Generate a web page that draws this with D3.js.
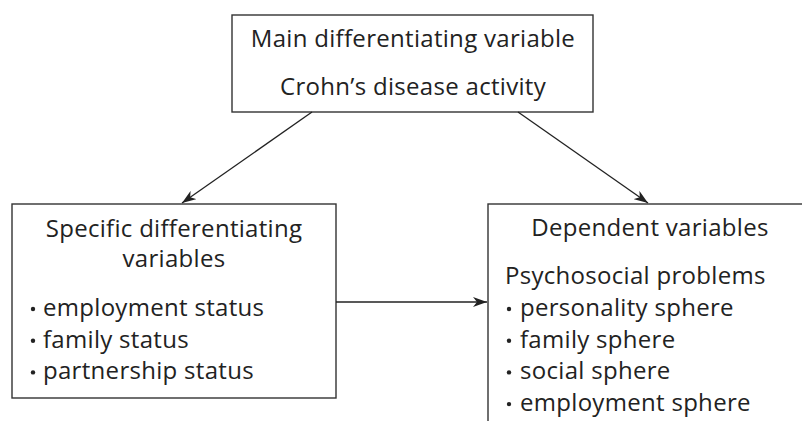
<!DOCTYPE html>
<html lang="en">
  <head>
    <meta charset="UTF-8" />
    <title>Crohn's disease model</title>
    <script src="https://cdn.jsdelivr.net/npm/d3@7"></script>
    <style>
      body { margin: 0; background: #fff; }
      text { font-family: "Open Sans", Lato, sans-serif; fill: #222; letter-spacing: 0.3px; }
    </style>
  </head>
  <body>
    <script>
      // texts of the three boxes
      var mainTitle = ["Main differentiating variable", "Crohn\u2019s disease activity"];
      var specificTitle = ["Specific differentiating", "variables"];
      var specificItems = ["employment status", "family status", "partnership status"];
      var dependentTitle = ["Dependent variables"];
      var dependentSub = ["Psychosocial problems"];
      var dependentItems = ["personality sphere", "family sphere", "social sphere", "employment sphere"];

      var W = 802, H = 421;
      var fs = 24, lh = 31.7;

      var svg = d3.select("body").append("svg")
        .attr("width", W).attr("height", H);

      svg.append("defs").append("marker")
        .attr("id", "arr")
        .attr("viewBox", "0 0 14 10")
        .attr("refX", 14).attr("refY", 5)
        .attr("markerWidth", 14).attr("markerHeight", 10)
        .attr("markerUnits", "userSpaceOnUse")
        .attr("orient", "auto")
        .append("path")
        .attr("d", "M0,0 L14,5 L0,10 L4,5 Z")
        .attr("fill", "#222");

      var boxes = [
        { x: 232, y: 15, w: 361, h: 97 },
        { x: 12, y: 204, w: 324, h: 194 },
        { x: 488, y: 204, w: 330, h: 240 }
      ];

      svg.selectAll("rect.box").data(boxes).enter()
        .append("rect")
        .attr("class", "box")
        .attr("x", function (d) { return d.x; })
        .attr("y", function (d) { return d.y; })
        .attr("width", function (d) { return d.w; })
        .attr("height", function (d) { return d.h; })
        .attr("fill", "none")
        .attr("stroke", "#333")
        .attr("stroke-width", 1.4);

      var links = [
        [312, 112, 182, 203],
        [518, 112, 648, 203],
        [336, 302, 487, 302]
      ];
      svg.selectAll("line.link").data(links).enter()
        .append("line")
        .attr("x1", function (d) { return d[0]; })
        .attr("y1", function (d) { return d[1]; })
        .attr("x2", function (d) { return d[2]; })
        .attr("y2", function (d) { return d[3]; })
        .attr("stroke", "#222")
        .attr("stroke-width", 1.3)
        .attr("marker-end", "url(#arr)");

      function centred(lines, cx, y0, step) {
        svg.selectAll(null).data(lines).enter()
          .append("text")
          .attr("x", cx)
          .attr("y", function (d, i) { return y0 + i * step; })
          .attr("text-anchor", "middle")
          .attr("font-size", fs)
          .text(function (d) { return d; });
      }
      function bullets(items, bx, tx, y0) {
        var g = svg.selectAll(null).data(items).enter().append("g");
        g.append("circle")
          .attr("cx", bx)
          .attr("cy", function (d, i) { return y0 + i * lh - 7; })
          .attr("r", 2.2)
          .attr("fill", "#222");
        g.append("text")
          .attr("x", tx)
          .attr("y", function (d, i) { return y0 + i * lh; })
          .attr("font-size", fs)
          .text(function (d) { return d; });
      }

      centred(mainTitle, 413, 47, 48);
      centred(specificTitle, 174, 237, 30);
      bullets(specificItems, 33, 43, 316);

      centred(dependentTitle, 650, 236, 30);
      svg.append("text")
        .attr("x", 505).attr("y", 284)
        .attr("font-size", fs)
        .text(dependentSub[0]);
      bullets(dependentItems, 509, 520, 316);
    </script>
  </body>
</html>
